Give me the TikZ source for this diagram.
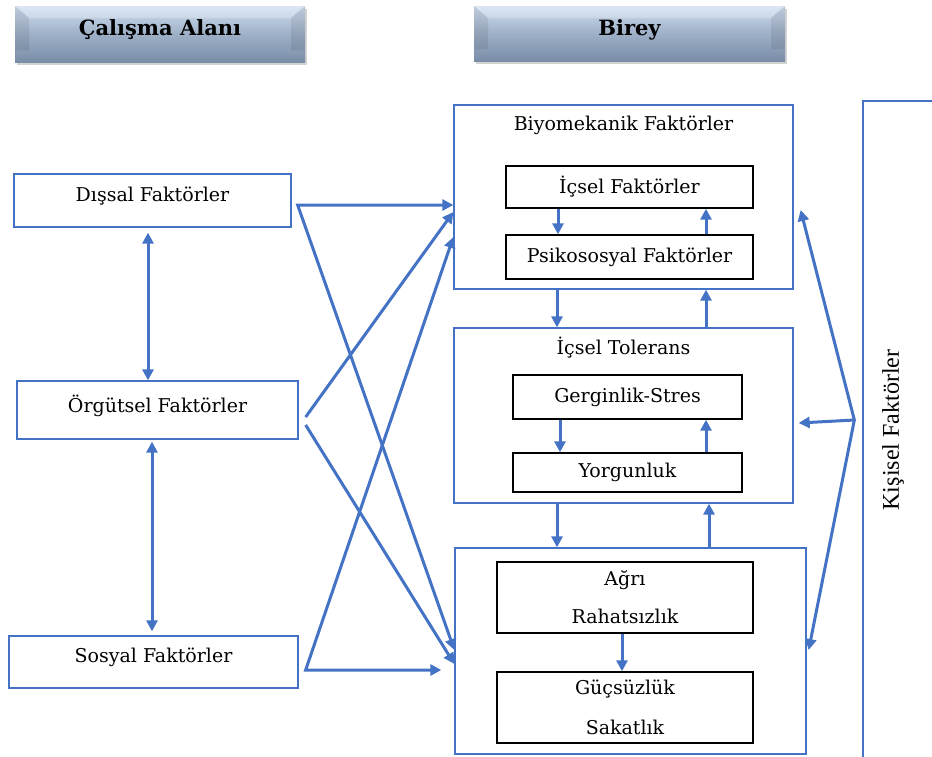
\documentclass[tikz,border=0pt]{standalone}
\usepackage{fontspec}
\setmainfont{DejaVu Serif}
\newfontfamily\kisfont{Liberation Serif}
\usetikzlibrary{arrows.meta, positioning, shadows, calc}

\definecolor{lineblue}{RGB}{68,114,196}
\definecolor{hdrtop}{RGB}{208,222,240}
\definecolor{hdrmid}{RGB}{158,176,199}
\definecolor{hdrbot}{RGB}{122,141,168}

\begin{document}
\begin{tikzpicture}[
    x=1pt, y=-1pt,
    hdr/.style={
        rectangle, top color=hdrtop, bottom color=hdrbot, middle color=hdrmid,
        drop shadow={shadow xshift=2pt, shadow yshift=-3pt, opacity=0.35},
        path picture={
            \fill[white, opacity=0.25] (path picture bounding box.north west) -- ++(14pt,-12pt)
                -| ([shift={(-14pt,-12pt)}]path picture bounding box.north east)
                -- (path picture bounding box.north east) -- cycle;
            \fill[black, opacity=0.08] (path picture bounding box.north west) -- ++(14pt,-12pt)
                |- ([yshift=12pt]path picture bounding box.south west)
                -- (path picture bounding box.south west) -- cycle;
            \fill[black, opacity=0.08] (path picture bounding box.north east) -- ++(-14pt,-12pt)
                |- ([yshift=12pt]path picture bounding box.south east)
                -- (path picture bounding box.south east) -- cycle;
        },
        font=\fontsize{21}{25}\selectfont\bfseries, text depth=12pt
    },
    fbox/.style={rectangle, draw=lineblue, line width=1.3pt, inner sep=0pt,
        font=\fontsize{19}{22}\selectfont, text depth=13pt},
    obox/.style={rectangle, draw=lineblue, line width=1.3pt, inner sep=0pt},
    ibox/.style={rectangle, draw=black, line width=1.4pt, inner sep=0pt,
        font=\fontsize{19}{22}\selectfont, align=center},
    ttl/.style={font=\fontsize{19}{22}\selectfont},
    arr/.style={draw=lineblue, line width=3pt, -{Triangle[length=11pt,width=11pt]}},
    arrs/.style={draw=lineblue, line width=3pt,
        {Triangle[length=11pt,width=11pt]}-{Triangle[length=11pt,width=11pt]}}
]
\useasboundingbox (0,0) rectangle (932,756);

% --- headers ---
\node[hdr, minimum width=290pt, minimum height=56pt] (Cal) at (160,34) {Çalışma Alanı};
\node[hdr, minimum width=311pt, minimum height=55pt] (Bir) at (629.5,33.5) {Birey};

% --- left column ---
\node[fbox, minimum width=277pt, minimum height=53pt] (Dis) at (152.5,200.5) {Dışsal Faktörler};
\node[fbox, minimum width=281pt, minimum height=58pt] (Org) at (157.5,410) {Örgütsel Faktörler};
\node[fbox, minimum width=289pt, minimum height=52pt] (Sos) at (153.5,662) {Sosyal Faktörler};

% --- Biyomekanik ---
\node[obox, minimum width=339pt, minimum height=184pt] (Biyo) at (623.5,197) {};
\node[ttl] (BiyoT) at (623.5,125) {Biyomekanik Faktörler};
\node[ibox, minimum width=247pt, minimum height=42pt] (Ics) at (629.5,187) {İçsel Faktörler};
\node[ibox, minimum width=247pt, minimum height=44pt] (Psi) at (629.5,257) {Psikososyal Faktörler};

% --- İçsel Tolerans ---
\node[obox, minimum width=339pt, minimum height=175pt] (Tol) at (623.5,415.5) {};
\node[ttl] (TolT) at (623.5,348) {İçsel Tolerans};
\node[ibox, minimum width=229pt, minimum height=44pt] (Ger) at (627.5,397) {Gerginlik-Stres};
\node[ibox, minimum width=229pt, minimum height=39pt] (Yor) at (627.5,472.5) {Yorgunluk};

% --- Ağrı / Güçsüzlük ---
\node[obox, minimum width=351pt, minimum height=206pt] (Son) at (630.5,651) {};
\node[ibox, minimum width=256pt, minimum height=71pt] (Agr) at (625,597.5) {Ağrı\\[16pt]Rahatsızlık};
\node[ibox, minimum width=256pt, minimum height=71pt] (Guc) at (625,707.5) {Güçsüzlük\\[18pt]Sakatlık};

% --- Kişisel Faktörler (runs off the right edge) ---
\node[obox, minimum width=100pt, minimum height=680pt] (Kis) at (913,441) {};
\node[font=\kisfont\fontsize{24}{27}\selectfont, rotate=90] (KisT) at (893,430) {Kişisel Faktörler};

% --- left column links ---
\draw[arrs] ([shift={(-4.5pt,-5pt)}]Dis.south) -- ([xshift=-4.5pt]Dis.south |- Org.north);
\draw[arrs] ([shift={(-5.5pt,-2pt)}]Org.south) -- ([shift={(-5.5pt,4pt)}]Org.south |- Sos.north);

% --- left column to Birey ---
\draw[arrs] ([yshift=-8pt]Biyo.west) -- ([shift={(6pt,-4.5pt)}]Dis.east) -- ([yshift=1pt]Son.west);
\draw[arr] ([shift={(7pt,-7pt)}]Org.east) -- ([yshift=-15pt]Biyo.west);
\draw[arr] ([shift={(7pt,-15pt)}]Org.east) -- ([yshift=-13pt]Son.west);
\draw[arrs] ([yshift=-40pt]Biyo.west) -- ([shift={(7pt,-8pt)}]Sos.east) -- ([shift={(-13pt,-19pt)}]Son.west);

% --- vertical links inside Birey ---
\draw[arr] ([xshift=-71.5pt]Ics.south) -- ([xshift=-71.5pt]Ics.south |- Psi.north);
\draw[arr] ([xshift=76.5pt]Psi.north) -- ([xshift=76.5pt]Psi.north |- Ics.south);
\draw[arr] ([xshift=-66.5pt]Biyo.south) -- ([xshift=-66.5pt]Tol.north);
\draw[arr] ([xshift=82.5pt]Tol.north) -- ([xshift=82.5pt]Biyo.south);
\draw[arr] ([xshift=-67.5pt]Ger.south) -- ([xshift=-67.5pt]Yor.north);
\draw[arr] ([xshift=78.5pt]Yor.north) -- ([xshift=78.5pt]Ger.south);
\draw[arr] ([xshift=-66.5pt]Tol.south) -- ([xshift=-66.5pt]Tol.south |- Son.north);
\draw[arr] ([xshift=85.5pt]Tol.south |- Son.north) -- ([xshift=85.5pt]Tol.south);
\draw[arr] ([xshift=-3pt]Agr.south) -- ([xshift=-3pt]Guc.north);

% --- Kişisel Faktörler to Birey ---
\draw[arrs] ([shift={(7pt,-13pt)}]Biyo.east) -- ([shift={(-8pt,21pt)}]Kis.west) -- ([shift={(2pt,1pt)}]Son.east);
\draw[arr] ([shift={(-8pt,21pt)}]Kis.west) -- ([shift={(5pt,-7.5pt)}]Tol.east);

\end{tikzpicture}
\end{document}
